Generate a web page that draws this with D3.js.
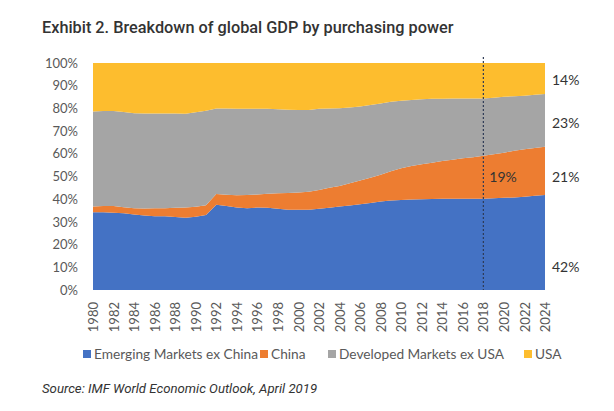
<!DOCTYPE html>
<html>
<head>
<meta charset="utf-8">
<script src="https://cdn.jsdelivr.net/npm/d3@7"></script>
<style>
  body { margin: 0; background: #fff; }
  svg { display: block; }
</style>
</head>
<body>
<svg id="chart" width="614" height="411"></svg>
<script>
// ----------------------------
// DATA (shares of global GDP, PPP, %)
// ----------------------------
const years = d3.range(1980, 2025);

const emerging = [34.3, 34.2, 34.0, 33.8, 33.3, 32.8, 32.5, 32.5, 32.2, 31.8,
  32.3, 33.0, 37.6, 37.0, 36.3, 36.0, 36.3, 36.2, 35.8, 35.4,
  35.3, 35.4, 35.8, 36.2, 36.8, 37.2, 37.8, 38.3, 39.0, 39.4,
  39.7, 39.9, 40.0, 40.1, 40.2, 40.2, 40.2, 40.2, 40.2, 40.4,
  40.6, 40.8, 41.1, 41.5, 41.9];

const china = [2.5, 2.8, 3.0, 2.7, 2.7, 3.1, 3.5, 3.5, 4.0, 4.5,
  4.4, 4.3, 4.7, 5.0, 5.4, 5.8, 5.8, 6.2, 6.8, 7.3,
  7.6, 7.9, 8.2, 8.8, 9.0, 9.8, 10.4, 11.2, 11.8, 12.9,
  13.9, 14.7, 15.4, 16.0, 16.6, 17.2, 17.8, 18.3, 18.9, 19.4,
  19.9, 20.5, 20.9, 21.1, 21.2];

const developed = [41.8, 41.8, 41.9, 41.9, 41.9, 41.8, 41.7, 41.7, 41.5, 41.3,
  41.6, 41.7, 37.7, 38.0, 38.2, 38.1, 37.8, 37.4, 37.0, 36.7,
  36.4, 36.0, 35.8, 35.0, 34.3, 33.4, 32.6, 32.0, 31.4, 30.6,
  29.8, 29.1, 28.6, 28.1, 27.5, 27.0, 26.4, 25.9, 25.3, 24.9,
  24.6, 24.1, 23.6, 23.4, 23.2];

const usa = [21.4, 21.2, 21.1, 21.6, 22.1, 22.3, 22.3, 22.3, 22.3, 22.4,
  21.7, 21.0, 20.0, 20.0, 20.1, 20.1, 20.1, 20.2, 20.4, 20.6,
  20.7, 20.7, 20.2, 20.0, 19.9, 19.6, 19.2, 18.5, 17.8, 17.1,
  16.6, 16.3, 16.0, 15.8, 15.7, 15.6, 15.6, 15.6, 15.6, 15.3,
  14.9, 14.6, 14.4, 14.0, 13.7];

const seriesNames = ["Emerging Markets ex China", "China", "Developed Markets ex USA", "USA"];
const seriesColors = ["#4472C4", "#ED7D31", "#A5A5A5", "#FDBD2E"];
const yTicks = [0, 10, 20, 30, 40, 50, 60, 70, 80, 90, 100];
const xTicks = d3.range(1980, 2025, 2);
const endLabels = ["42%", "21%", "23%", "14%"];
const markerYear = 2018;
const markerLabel = "19%";

// ----------------------------
// SETUP
// ----------------------------
const svg = d3.select("#chart");
const plot = { left: 93, right: 545, top: 63, bottom: 290 };

const x = d3.scaleLinear().domain([1980, 2024]).range([plot.left, plot.right]);
const y = d3.scaleLinear().domain([0, 100]).range([plot.bottom, plot.top]);

const rows = years.map((yr, i) => ({
  year: yr,
  s0: emerging[i], s1: china[i], s2: developed[i], s3: usa[i]
}));

const stack = d3.stack()
  .keys(["s0", "s1", "s2", "s3"])
  .offset(d3.stackOffsetExpand);

const layers = stack(rows);

const area = d3.area()
  .x(d => x(d.data.year))
  .y0(d => y(d[0] * 100))
  .y1(d => y(d[1] * 100));

// title
svg.append("text")
  .attr("x", 42).attr("y", 33)
  .attr("font-family", "Roboto, sans-serif")
  .attr("font-size", 16.3)
  .attr("font-weight", 500)
  .attr("fill", "#333")
  .text("Exhibit 2. Breakdown of global GDP by purchasing power");

// areas
svg.append("g")
  .selectAll("path")
  .data(layers)
  .join("path")
  .attr("fill", (d, i) => seriesColors[i])
  .attr("d", area);

// y axis
const yAxis = svg.append("g")
  .attr("transform", `translate(${plot.left - 12},0)`)
  .call(d3.axisLeft(y).tickValues(yTicks).tickSize(0).tickFormat(d => d + "%"));
yAxis.select(".domain").remove();
yAxis.selectAll("text")
  .attr("font-family", "Lato, sans-serif")
  .attr("font-size", 13)
  .attr("fill", "#595959");

// x axis
const xAxis = svg.append("g")
  .attr("transform", `translate(0,${plot.bottom})`)
  .call(d3.axisBottom(x).tickValues(xTicks).tickSize(0).tickFormat(d3.format("d")));
xAxis.select(".domain").remove();
xAxis.selectAll("text")
  .attr("font-family", "Lato, sans-serif")
  .attr("font-size", 13)
  .attr("fill", "#595959")
  .attr("text-anchor", "end")
  .attr("transform", "rotate(-90)")
  .attr("x", -12)
  .attr("y", 0)
  .attr("dy", "0.35em");

// 2018 marker
svg.append("line")
  .attr("x1", x(markerYear)).attr("x2", x(markerYear))
  .attr("y1", plot.top - 6).attr("y2", plot.bottom)
  .attr("stroke", "#2E3B55")
  .attr("stroke-width", 1.2)
  .attr("stroke-dasharray", "2,2");

svg.append("text")
  .attr("x", x(markerYear) + 6).attr("y", y(49.6))
  .attr("dy", "0.35em")
  .attr("font-family", "Lato, sans-serif")
  .attr("font-size", 14)
  .attr("fill", "#333")
  .text(markerLabel);

// end labels
const endLabelY = [10.3, 49.9, 73.7, 92.6];
svg.append("g")
  .selectAll("text")
  .data(endLabels)
  .join("text")
  .attr("x", plot.right + 7)
  .attr("y", (d, i) => y(endLabelY[i]))
  .attr("dy", "0.35em")
  .attr("font-family", "Lato, sans-serif")
  .attr("font-size", 14)
  .attr("fill", "#333")
  .text(d => d);

// legend
const legendX = [83, 260, 328, 524];
const legend = svg.append("g");
seriesNames.forEach((name, i) => {
  const gItem = legend.append("g").attr("transform", `translate(${legendX[i]},0)`);
  gItem.append("rect")
    .attr("x", 0).attr("y", 350)
    .attr("width", 8).attr("height", 8)
    .attr("fill", seriesColors[i]);
  gItem.append("text")
    .attr("x", 11).attr("y", 359)
    .attr("font-family", "Lato, sans-serif")
    .attr("font-size", 13.7)
    .attr("fill", "#595959")
    .text(name);
});

// source
svg.append("text")
  .attr("x", 42).attr("y", 393)
  .attr("font-family", "Roboto, sans-serif")
  .attr("font-size", 13.2)
  .attr("font-style", "italic")
  .attr("fill", "#333")
  .text("Source: IMF World Economic Outlook, April 2019");
</script>
</body>
</html>
